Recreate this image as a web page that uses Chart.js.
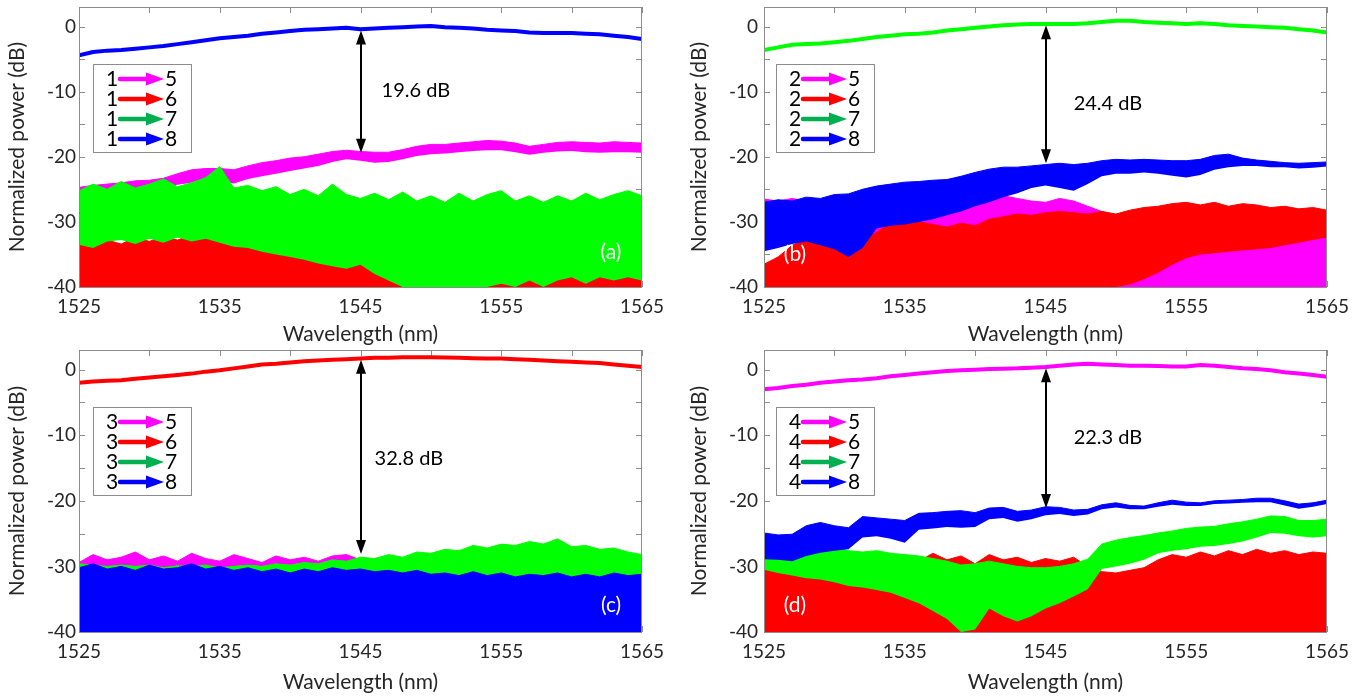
<!DOCTYPE html>
<html>
<head>
<meta charset="utf-8">
<script src="https://cdn.jsdelivr.net/npm/chart.js@4.4.1/dist/chart.umd.min.js"></script>
<style>
  body { margin: 0; background: #fff; }
  #figure { position: relative; width: 1363px; height: 696px; }
  #figure canvas { position: absolute; }
</style>
</head>
<body>
<div id="figure">
  <canvas id="panel-a" width="680" height="348" style="left:0;top:0"></canvas>
  <canvas id="panel-b" width="683" height="348" style="left:680px;top:0"></canvas>
  <canvas id="panel-c" width="680" height="348" style="left:0;top:348px"></canvas>
  <canvas id="panel-d" width="683" height="348" style="left:680px;top:348px"></canvas>
</div>
<script>
// wavelength grid of every trace (nm)
const wavelengths = [1525, 1526, 1527, 1528, 1529, 1530, 1531, 1532, 1533, 1534,
  1535, 1536, 1537, 1538, 1539, 1540, 1541, 1542, 1543, 1544,
  1545, 1546, 1547, 1548, 1549, 1550, 1551, 1552, 1553, 1554,
  1555, 1556, 1557, 1558, 1559, 1560, 1561, 1562, 1563, 1564, 1565];
const wavelengthTicks = [1525, 1535, 1545, 1555, 1565];
const wavelengthMinorTicks = [1525, 1530, 1535, 1540, 1545, 1550, 1555, 1560, 1565];
const powerTicks = [-40, -30, -20, -10, 0];
const powerMinorTicks = [-40, -35, -30, -25, -20, -15, -10, -5, 0];

// (a) input 1 -- noisy traces given as top / bottom of the noise band (dB)
const port1to8 = [-4.4, -3.9, -3.7, -3.6, -3.4, -3.2, -3.0, -2.7, -2.4, -2.1,
  -1.8, -1.6, -1.4, -1.1, -0.9, -0.7, -0.5, -0.4, -0.3, -0.2,
  -0.4, -0.3, -0.2, -0.1, 0.0, 0.1, -0.1, -0.2, -0.3, -0.5,
  -0.6, -0.7, -0.9, -1.0, -1.0, -1.0, -1.1, -1.2, -1.4, -1.6, -1.9];
const port1to5Top = [-24.7, -24.4, -24.2, -24.0, -23.7, -23.6, -23.3, -22.6, -22.0, -21.8,
  -21.8, -22.0, -21.4, -20.9, -20.6, -20.2, -20.0, -19.6, -19.2, -19.0,
  -19.2, -19.3, -19.3, -18.9, -18.4, -18.1, -18.1, -17.9, -17.7, -17.5,
  -17.6, -17.9, -18.4, -18.1, -17.8, -17.7, -17.8, -17.9, -17.7, -17.8, -17.9];
const port1to5Bottom = [-25.8, -25.6, -25.5, -25.3, -25.2, -24.9, -24.6, -24.3, -24.0, -23.8,
  -23.8, -24.1, -23.4, -23.0, -22.6, -22.2, -21.8, -21.4, -20.8, -20.4,
  -20.6, -20.9, -20.8, -20.4, -19.9, -19.6, -19.5, -19.3, -19.1, -19.0,
  -19.0, -19.3, -19.7, -19.4, -19.2, -19.1, -19.3, -19.4, -19.3, -19.3, -19.4];
const port1to7Top = [-25.2, -24.2, -25.0, -23.8, -24.8, -24.2, -23.4, -24.6, -24.0, -23.2,
  -21.5, -24.8, -24.4, -25.2, -24.6, -25.8, -25.0, -26.0, -24.2, -25.8,
  -26.4, -25.6, -26.6, -25.4, -26.8, -26.0, -27.0, -25.6, -26.8, -25.8,
  -25.2, -26.8, -26.0, -27.0, -26.0, -26.8, -25.6, -26.6, -25.8, -25.2, -26.0];
const port1to7Bottom = [-33.5, -34.0, -33.0, -32.8, -33.4, -32.6, -33.2, -32.4, -33.0, -32.6,
  -33.2, -33.8, -34.0, -34.6, -35.0, -35.4, -35.8, -36.4, -36.8, -37.2,
  -36.6, -38.0, -39.0, -40.0, -40.0, -40.0, -40.0, -40.0, -40.0, -40.0,
  -39.5, -40.0, -39.0, -40.0, -39.0, -38.5, -39.5, -38.5, -39.0, -38.5, -39.0];
const port1to6Top = [-33.0, -33.8, -32.8, -33.4, -32.4, -33.0, -32.2, -32.8, -32.0, -32.6,
  -32.2, -33.2, -33.4, -34.0, -34.4, -35.0, -35.2, -36.0, -36.4, -36.0,
  -35.2, -37.6, -39.0, -40.0, -40.0, -40.0, -40.0, -40.0, -40.0, -39.6,
  -38.4, -39.0, -38.0, -38.6, -37.4, -38.0, -37.0, -37.6, -36.8, -37.4, -36.4];

// (b) input 2
const port2to7 = [-3.6, -3.2, -2.8, -2.7, -2.6, -2.4, -2.2, -1.9, -1.6, -1.4,
  -1.2, -1.1, -0.9, -0.6, -0.4, -0.2, 0.0, 0.2, 0.3, 0.4,
  0.4, 0.4, 0.4, 0.5, 0.7, 0.9, 0.9, 0.7, 0.6, 0.5,
  0.4, 0.5, 0.4, 0.2, 0.1, 0.0, -0.1, -0.2, -0.4, -0.6, -0.9];
const port2to8Top = [-27.0, -26.6, -26.8, -26.2, -26.4, -25.8, -25.7, -25.0, -24.5, -24.2,
  -23.9, -23.8, -23.6, -23.5, -23.0, -22.4, -21.9, -21.6, -21.6, -21.4,
  -21.2, -21.0, -21.2, -21.0, -20.6, -20.4, -20.5, -20.4, -20.5, -20.6,
  -20.6, -20.4, -19.8, -19.6, -20.2, -20.5, -20.7, -20.9, -21.0, -20.9, -20.8];
const port2to8Bottom = [-34.5, -34.0, -33.4, -33.0, -33.6, -34.2, -35.4, -34.0, -31.0, -30.6,
  -30.4, -30.0, -29.6, -29.0, -28.4, -27.6, -27.0, -26.2, -25.6, -24.8,
  -24.4, -24.8, -25.2, -24.2, -23.0, -22.6, -22.6, -22.4, -22.6, -22.9,
  -23.2, -22.8, -22.0, -21.6, -21.4, -21.4, -21.6, -21.6, -21.8, -21.7, -21.5];
const port2to5Top = [-26.5, -26.8, -26.4, -26.8, -26.6, -26.9, -27.0, -27.2, -27.0, -27.4,
  -27.2, -26.8, -26.4, -26.0, -25.8, -26.0, -26.2, -26.0, -26.4, -26.8,
  -27.0, -26.4, -26.8, -27.6, -28.4, -29.0, -30.5, -32.5, -34.0, -35.0,
  -35.0, -34.6, -34.8, -34.4, -34.0, -33.8, -33.6, -33.0, -32.6, -32.4, -32.0];
const port2to5Bottom = [-33.0, -33.0, -33.0, -33.0, -33.0, -33.0, -33.0, -33.0, -33.0, -33.0,
  -33.0, -32.4, -32.0, -32.4, -31.8, -31.4, -31.0, -31.4, -32.0, -32.6,
  -33.4, -34.0, -35.0, -36.5, -38.0, -40.0, -40.0, -40.0, -40.0, -40.0,
  -40.0, -40.0, -40.0, -40.0, -40.0, -40.0, -40.0, -40.0, -40.0, -40.0, -40.0];
const port2to6Top = [-36.5, -35.4, -33.6, -32.6, -32.0, -32.4, -33.0, -32.8, -31.6, -30.2,
  -29.8, -30.0, -30.4, -30.8, -30.2, -30.6, -29.6, -29.2, -28.8, -29.0,
  -28.6, -28.4, -28.6, -28.8, -28.4, -28.8, -28.2, -27.8, -27.6, -27.2,
  -27.0, -27.4, -27.0, -27.6, -27.2, -27.4, -27.8, -27.6, -28.0, -27.8, -28.2];
const port2to6Bottom = [-40.0, -40.0, -40.0, -40.0, -40.0, -40.0, -40.0, -40.0, -40.0, -40.0,
  -40.0, -40.0, -40.0, -40.0, -40.0, -40.0, -40.0, -40.0, -40.0, -40.0,
  -40.0, -40.0, -40.0, -40.0, -40.0, -40.0, -39.6, -38.8, -37.8, -36.6,
  -35.6, -35.0, -34.8, -34.6, -34.4, -34.2, -34.0, -33.6, -33.2, -32.8, -32.4];

// (c) input 3
const port3to6 = [-2.0, -1.8, -1.7, -1.6, -1.4, -1.2, -1.0, -0.8, -0.6, -0.3,
  -0.1, 0.2, 0.5, 0.8, 0.9, 1.1, 1.3, 1.4, 1.5, 1.6,
  1.7, 1.8, 1.8, 1.9, 1.9, 1.9, 1.85, 1.8, 1.75, 1.7,
  1.7, 1.6, 1.5, 1.4, 1.3, 1.2, 1.1, 1.0, 0.8, 0.6, 0.4];
const port3to5Top = [-29.4, -28.2, -29.0, -28.6, -27.8, -29.0, -28.4, -29.2, -28.0, -28.8,
  -29.2, -28.2, -28.8, -29.4, -28.4, -29.0, -28.6, -29.2, -28.4, -28.2,
  -29.0, -29.2, -29.6, -29.4, -29.8, -29.6, -30.0, -29.8, -30.0, -29.8,
  -30.0, -29.8, -30.0, -29.8, -30.0, -29.8, -30.0, -29.8, -30.0, -29.8, -30.0];
const port3to7Top = [-29.6, -29.8, -30.0, -29.8, -30.0, -29.8, -30.2, -29.9, -30.0, -29.8,
  -30.2, -30.0, -29.8, -30.0, -29.6, -29.8, -29.4, -29.6, -29.0, -29.2,
  -28.6, -28.8, -28.2, -28.6, -27.8, -28.0, -27.4, -27.6, -26.8, -27.2,
  -26.6, -26.8, -26.2, -26.6, -25.8, -27.0, -26.8, -27.4, -27.2, -27.8, -28.2];
const port3to8Top = [-30.2, -29.6, -30.4, -30.0, -30.6, -29.8, -30.4, -30.2, -29.6, -30.4,
  -30.0, -30.6, -30.2, -30.8, -30.4, -31.0, -30.4, -30.8, -30.2, -30.6,
  -30.4, -30.8, -30.6, -31.0, -30.6, -31.2, -31.0, -31.4, -30.8, -31.4,
  -31.0, -31.6, -31.2, -31.4, -31.0, -31.6, -31.2, -31.6, -31.0, -31.4, -31.2];

// (d) input 4
const port4to5 = [-3.0, -2.8, -2.5, -2.3, -2.0, -1.8, -1.6, -1.5, -1.3, -1.0,
  -0.8, -0.6, -0.4, -0.2, -0.1, 0.0, 0.1, 0.15, 0.2, 0.3,
  0.4, 0.6, 0.8, 0.9, 0.8, 0.7, 0.6, 0.6, 0.55, 0.5,
  0.5, 0.7, 0.6, 0.4, 0.2, 0.1, -0.1, -0.4, -0.6, -0.8, -1.1];
const port4to8Top = [-24.9, -25.2, -25.1, -23.8, -23.3, -23.8, -24.1, -22.4, -22.6, -22.8,
  -23.0, -21.9, -21.8, -21.6, -21.5, -21.8, -21.1, -21.0, -21.6, -21.4,
  -20.9, -21.0, -21.4, -21.3, -20.6, -20.3, -20.7, -20.8, -20.3, -19.9,
  -20.2, -20.3, -20.0, -19.9, -19.8, -19.6, -19.6, -20.0, -20.5, -20.3, -19.9];
const port4to8Bottom = [-28.9, -29.0, -29.2, -28.4, -27.9, -27.6, -27.4, -25.6, -25.4, -25.8,
  -26.4, -24.4, -24.2, -24.0, -24.1, -24.0, -22.8, -22.6, -23.2, -22.8,
  -22.2, -22.0, -22.3, -22.1, -21.3, -21.0, -21.3, -21.3, -20.9, -20.6,
  -20.8, -20.8, -20.5, -20.4, -20.3, -20.2, -20.2, -20.7, -21.2, -20.9, -20.5];
const port4to7Top = [-28.4, -28.0, -27.6, -27.0, -26.9, -27.2, -27.6, -27.8, -27.6, -28.0,
  -28.2, -28.4, -28.8, -29.2, -29.8, -29.6, -29.2, -29.6, -30.0, -30.2,
  -30.2, -30.0, -29.6, -28.9, -26.6, -26.0, -25.6, -25.3, -24.9, -24.6,
  -24.2, -24.0, -23.9, -23.5, -23.2, -22.8, -22.3, -22.4, -23.0, -23.0, -22.8];
const port4to7Bottom = [-30.5, -31.0, -31.4, -31.8, -32.0, -32.4, -33.0, -33.2, -33.6, -34.0,
  -34.8, -35.6, -36.8, -38.0, -40.0, -39.6, -36.4, -37.6, -38.4, -37.6,
  -36.4, -35.6, -34.6, -33.5, -30.4, -30.0, -29.6, -29.0, -28.0, -27.6,
  -27.4, -27.0, -26.9, -26.6, -26.2, -25.6, -24.9, -25.0, -25.4, -25.6, -25.4];
const port4to6Top = [-30.4, -31.0, -30.6, -31.4, -31.6, -32.2, -31.8, -32.4, -30.4, -29.0,
  -28.4, -29.2, -28.0, -29.0, -28.4, -29.6, -28.2, -29.0, -28.6, -29.4,
  -28.8, -29.2, -28.6, -30.0, -30.8, -31.0, -30.6, -30.2, -29.0, -28.2,
  -28.6, -27.8, -28.4, -27.6, -28.2, -27.4, -28.0, -27.6, -28.2, -27.8, -28.0];

// legend and annotations
const inputPorts = ['1', '2', '3', '4'];
const outputPorts = ['5', '6', '7', '8'];
const gapLabels = ['19.6 dB', '24.4 dB', '32.8 dB', '22.3 dB'];
const gapTops = [-0.6, 0.2, 1.5, 0.2];
const gapBottoms = [-19.4, -21.0, -28.1, -21.1];
const panelTags = ['(a)', '(b)', '(c)', '(d)'];

const MAGENTA = '#ff00ff', RED = '#ff0000', GREEN = '#00ff00', BLUE = '#0000ff';
const legendColors = [MAGENTA, RED, '#00b050', BLUE];
const TEXT = '#262626', FRAME = '#8c8c8c';

Chart.defaults.font.family = 'Lato';

const pts = ys => ys.map((y, i) => ({x: wavelengths[i], y}));

function line(ys, color, order) {
  return {data: pts(ys), borderColor: color, borderWidth: 4, pointRadius: 0,
    fill: false, order, borderJoinStyle: 'round'};
}
function band(top, bottom, color, order) {
  return [
    {data: pts(bottom), borderWidth: 0, pointRadius: 0, fill: false, order},
    {data: pts(top), borderColor: color, borderWidth: 1, backgroundColor: color,
      pointRadius: 0, fill: '-1', order}
  ];
}
function floor(top, color, order) {
  return {data: pts(top), borderColor: color, borderWidth: 1, backgroundColor: color,
    pointRadius: 0, fill: {value: -40}, order};
}

const panels = [
  {id: 'panel-a', yWidth: 79, xHeight: 61, padTop: 7, padRight: 38, tickPad: 3, titlePad: 5,
    legendLeft: 14, textX: 1546.5, textY: -9.8, tagX: 1562.8, tagY: -34.6,
    datasets: [
      ...band(port1to5Top, port1to5Bottom, MAGENTA, 4),
      floor(port1to6Top, RED, 3),
      ...band(port1to7Top, port1to7Bottom, GREEN, 2),
      line(port1to8, BLUE, 1)
    ]},
  {id: 'panel-b', yWidth: 84, xHeight: 61, padTop: 7, padRight: 36, tickPad: 6, titlePad: 7,
    legendLeft: 12, textX: 1547, textY: -11.9, tagX: 1527.2, tagY: -35,
    datasets: [
      ...band(port2to5Top, port2to5Bottom, MAGENTA, 4),
      ...band(port2to6Top, port2to6Bottom, RED, 3),
      line(port2to7, GREEN, 2),
      ...band(port2to8Top, port2to8Bottom, BLUE, 1)
    ]},
  {id: 'panel-c', yWidth: 79, xHeight: 64, padTop: 2, padRight: 38, tickPad: 3, titlePad: 5,
    legendLeft: 14, textX: 1546, textY: -13.6, tagX: 1562.8, tagY: -35.9,
    datasets: [
      floor(port3to5Top, MAGENTA, 4),
      line(port3to6, RED, 3),
      floor(port3to7Top, GREEN, 2),
      floor(port3to8Top, BLUE, 1)
    ]},
  {id: 'panel-d', yWidth: 84, xHeight: 64, padTop: 2, padRight: 36, tickPad: 6, titlePad: 7,
    legendLeft: 12, textX: 1547, textY: -10.3, tagX: 1527.2, tagY: -35.9,
    datasets: [
      line(port4to5, MAGENTA, 4),
      floor(port4to6Top, RED, 3),
      ...band(port4to7Top, port4to7Bottom, GREEN, 2),
      ...band(port4to8Top, port4to8Bottom, BLUE, 1)
    ]}
];

function drawTicks(chart) {
  const {ctx, chartArea: a, scales: {x, y}} = chart;
  ctx.save();
  ctx.strokeStyle = FRAME;
  ctx.lineWidth = 1;
  ctx.beginPath();
  wavelengthMinorTicks.forEach(v => {
    const px = Math.round(x.getPixelForValue(v)) + 0.5;
    ctx.moveTo(px, a.bottom); ctx.lineTo(px, a.bottom - 6);
    ctx.moveTo(px, a.top); ctx.lineTo(px, a.top + 6);
  });
  powerMinorTicks.forEach(v => {
    const py = Math.round(y.getPixelForValue(v)) + 0.5;
    ctx.moveTo(a.left, py); ctx.lineTo(a.left + 6, py);
    ctx.moveTo(a.right, py); ctx.lineTo(a.right - 6, py);
  });
  ctx.stroke();
  ctx.restore();
}

function drawDecor(chart, p, k) {
  const {ctx, chartArea: a, scales: {x, y}} = chart;
  ctx.save();
  // frame
  ctx.strokeStyle = FRAME;
  ctx.lineWidth = 1;
  ctx.strokeRect(Math.round(a.left) + 0.5, Math.round(a.top) + 0.5,
    Math.round(a.width) - 1, Math.round(a.height));

  // double arrow between the through port and the strongest leak
  const ax = Math.round(x.getPixelForValue(1545));
  const y1 = y.getPixelForValue(gapTops[k]);
  const y2 = y.getPixelForValue(gapBottoms[k]);
  ctx.strokeStyle = '#000';
  ctx.fillStyle = '#000';
  ctx.lineWidth = 2;
  ctx.beginPath();
  ctx.moveTo(ax, y1 + 10); ctx.lineTo(ax, y2 - 10);
  ctx.stroke();
  ctx.beginPath();
  ctx.moveTo(ax, y1); ctx.lineTo(ax - 5, y1 + 14); ctx.lineTo(ax + 5, y1 + 14); ctx.closePath();
  ctx.moveTo(ax, y2); ctx.lineTo(ax - 5, y2 - 14); ctx.lineTo(ax + 5, y2 - 14); ctx.closePath();
  ctx.fill();

  ctx.font = '20px Lato';
  ctx.textBaseline = 'middle';
  ctx.textAlign = 'left';
  ctx.fillText(gapLabels[k], x.getPixelForValue(p.textX), y.getPixelForValue(p.textY));

  // panel tag
  ctx.fillStyle = '#fff';
  ctx.textAlign = 'center';
  ctx.font = '21px Lato';
  ctx.fillText(panelTags[k], x.getPixelForValue(p.tagX), y.getPixelForValue(p.tagY));

  // legend
  const bx = Math.round(a.left + p.legendLeft), by = Math.round(a.top + 57);
  const bw = 98, bh = 88;
  ctx.fillStyle = '#fff';
  ctx.fillRect(bx, by, bw, bh);
  ctx.strokeStyle = FRAME;
  ctx.lineWidth = 1;
  ctx.strokeRect(bx + 0.5, by + 0.5, bw, bh);
  ctx.font = '21px Lato';
  ctx.textAlign = 'left';
  outputPorts.forEach((out, i) => {
    const cy = by + 15 + i * 20;
    ctx.fillStyle = '#000';
    ctx.fillText(inputPorts[k], bx + 13, cy);
    ctx.fillText(out, bx + 72, cy);
    ctx.strokeStyle = legendColors[i];
    ctx.fillStyle = legendColors[i];
    ctx.lineWidth = 4.5;
    ctx.lineCap = 'round';
    ctx.beginPath();
    ctx.moveTo(bx + 27, cy); ctx.lineTo(bx + 57, cy);
    ctx.stroke();
    ctx.beginPath();
    ctx.moveTo(bx + 53, cy - 6.5); ctx.lineTo(bx + 71, cy); ctx.lineTo(bx + 53, cy + 6.5);
    ctx.closePath();
    ctx.fill();
  });
  ctx.restore();
}

panels.forEach((p, k) => {
  new Chart(document.getElementById(p.id), {
    type: 'line',
    data: {datasets: p.datasets},
    options: {
      responsive: false,
      animation: false,
      layout: {padding: {top: p.padTop, right: p.padRight, left: 0, bottom: 0}},
      plugins: {legend: {display: false}, tooltip: {enabled: false}},
      elements: {line: {tension: 0}},
      scales: {
        x: {
          type: 'linear', min: 1525, max: 1565,
          afterBuildTicks: s => { s.ticks = wavelengthTicks.map(v => ({value: v})); },
          afterFit: s => { s.height = p.xHeight; s.paddingLeft = 0; s.paddingRight = 0; },
          grid: {display: false, drawTicks: false},
          border: {display: false},
          ticks: {padding: 8, color: TEXT, font: {size: 19}, maxRotation: 0,
            autoSkip: false, callback: v => String(v)},
          title: {display: true, text: 'Wavelength (nm)', color: TEXT,
            font: {size: 21}, padding: {top: 0, bottom: 1}}
        },
        y: {
          min: -40, max: 3,
          afterBuildTicks: s => { s.ticks = powerTicks.map(v => ({value: v})); },
          afterFit: s => { s.width = p.yWidth; s.paddingTop = 0; s.paddingBottom = 0; },
          grid: {display: false, drawTicks: false},
          border: {display: false},
          ticks: {padding: p.tickPad, color: TEXT, font: {size: 19},
            callback: v => String(v)},
          title: {display: true, text: 'Normalized power (dB)', color: TEXT,
            font: {size: 21}, padding: {top: p.titlePad, bottom: 0}}
        }
      }
    },
    plugins: [{
      id: 'panelDecor',
      beforeDatasetsDraw: chart => drawTicks(chart),
      afterDatasetsDraw: chart => drawDecor(chart, p, k)
    }]
  });
});
</script>
</body>
</html>
